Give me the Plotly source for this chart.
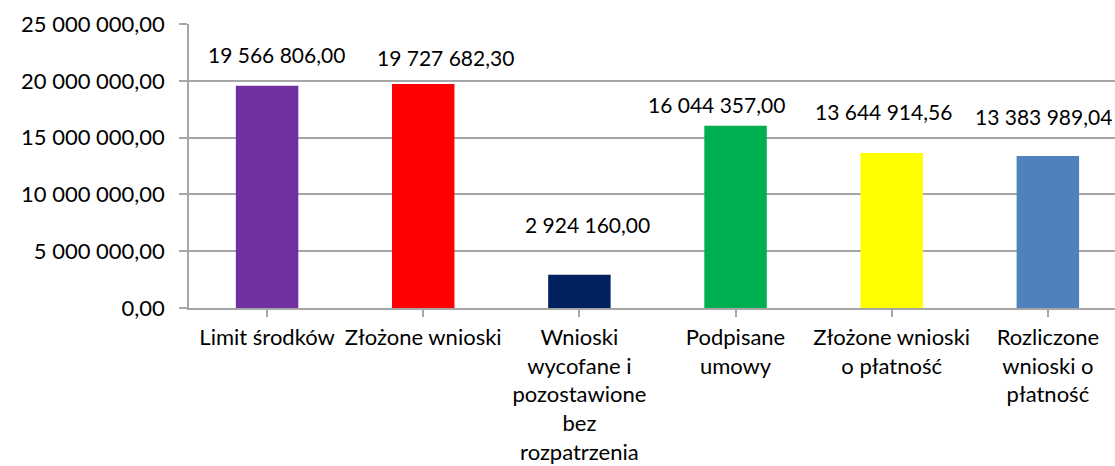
import plotly.graph_objects as go

# Categories (multi-line labels as shown under the axis)
categories = [
    "Limit środków",
    "Złożone wnioski",
    "Wnioski<br>wycofane i<br>pozostawione<br>bez<br>rozpatrzenia",
    "Podpisane<br>umowy",
    "Złożone wnioski<br>o płatność",
    "Rozliczone<br>wnioski o<br>płatność",
]
values = [19566806.00, 19727682.30, 2924160.00, 16044357.00, 13644914.56, 13383989.04]
bar_colors = ["#7030A0", "#FF0000", "#002060", "#00B050", "#FFFF00", "#4F81BD"]

# Manual placement of each value label relative to its bar top (pixels)
label_dx = [9, 22, 8, -19, -8, -4]
label_dy = [31, 26, 50, 21, 41, 39]

FONT = "Lato"
FS = 22
LABEL_FS = 21
GRID = "#a6a6a6"


def pl_number(v):
    # Polish style: space as thousands separator, comma as decimal mark
    return f"{v:,.2f}".replace(",", " ").replace(".", ",")


x_idx = list(range(len(categories)))

fig = go.Figure()
fig.add_trace(go.Bar(
    x=x_idx,
    y=values,
    marker=dict(color=bar_colors, line=dict(width=0)),
    width=0.4,
    showlegend=False,
    hoverinfo="skip",
))

for i, v in enumerate(values):
    fig.add_annotation(
        x=i, y=v, xref="x", yref="y",
        text=pl_number(v),
        showarrow=False,
        xanchor="center", yanchor="middle",
        xshift=label_dx[i], yshift=label_dy[i],
        font=dict(family=FONT, size=LABEL_FS, color="#000000"),
    )

fig.update_layout(
    width=1115, height=466,
    margin=dict(l=189, r=0, t=24, b=158),
    paper_bgcolor="white",
    plot_bgcolor="white",
    separators=", ",
    font=dict(family=FONT, size=FS, color="#000000"),
    bargap=0.6,
)

fig.update_xaxes(
    tickmode="array",
    tickvals=x_idx,
    ticktext=categories,
    range=[-0.5, 5.43],
    showline=True, linecolor=GRID, linewidth=1.5,
    ticks="outside", ticklen=7, tickcolor=GRID, tickwidth=1.5,
    tickson="boundaries",
    showgrid=False, zeroline=False,
    tickangle=0,
    tickfont=dict(family=FONT, size=FS, color="#000000"),
    ticklabelstandoff=2,
)

fig.update_yaxes(
    range=[0, 25000000],
    tickmode="array",
    tickvals=[0, 5000000, 10000000, 15000000, 20000000, 25000000],
    tickformat=",.2f",
    showline=True, linecolor=GRID, linewidth=1.5,
    ticks="outside", ticklen=8, tickcolor=GRID, tickwidth=1.5,
    showgrid=True, gridcolor=GRID, gridwidth=1.5,
    zeroline=False,
    tickfont=dict(family=FONT, size=FS, color="#000000"),
    ticklabelstandoff=10,
)

fig.write_html("out.html")
